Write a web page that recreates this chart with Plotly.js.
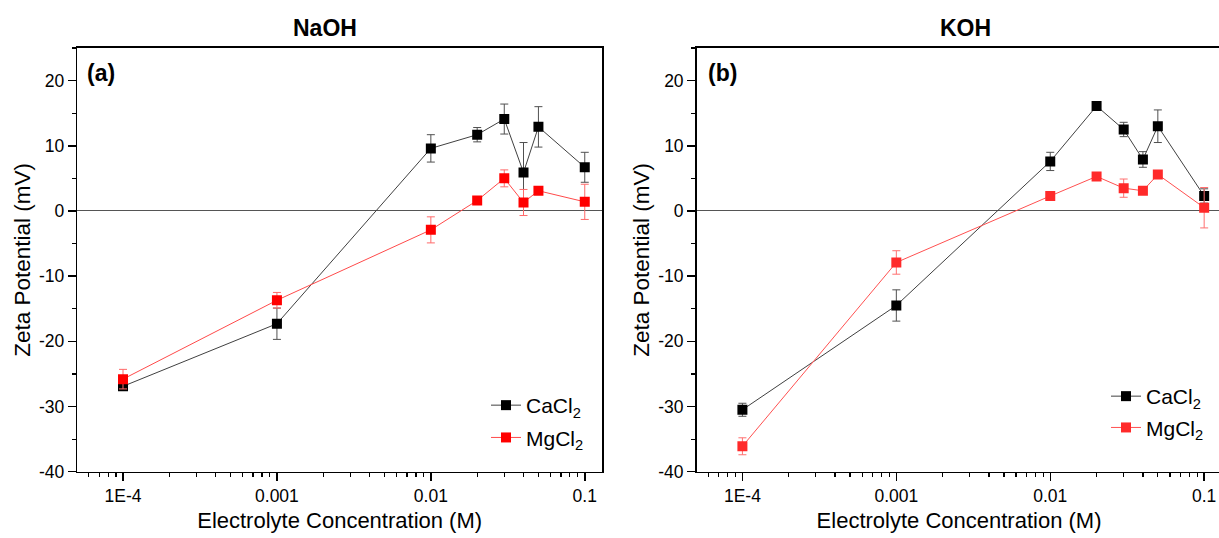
<!DOCTYPE html>
<html>
<head>
<meta charset="utf-8">
<script src="https://cdn.plot.ly/plotly-3.0.1.min.js"></script>
<style>
html, body { margin: 0; padding: 0; overflow: hidden; background: #fff; }
#chart { width: 1222px; height: 538px; }
</style>
</head>
<body>
<div id="chart"></div>
<script>
// Concentrations (M)
const conc = [0.0001, 0.001, 0.01, 0.02, 0.03, 0.04, 0.05, 0.1];
const xTickVals = [0.0001, 0.001, 0.01, 0.1];
const xTickText = ["1E-4", "0.001", "0.01", "0.1"];
const yTickVals = [-40, -30, -20, -10, 0, 10, 20];
const yTickText = ["-40", "-30", "-20", "-10", "0", "10", "20"];

// (a) NaOH
const naohCaCl2 = [-26.9, -17.3, 9.6, 11.7, 14.1, 5.9, 12.9, 6.7];
const naohCaCl2Err = [0.5, 2.4, 2.1, 1.1, 2.3, 4.6, 3.1, 2.3];
const naohMgCl2 = [-25.8, -13.7, -2.9, 1.6, 5.0, 1.3, 3.1, 1.4];
const naohMgCl2Err = [1.5, 1.2, 2.0, 0.3, 1.3, 2.0, 0.5, 2.7];

// (b) KOH
const kohCaCl2 = [-30.5, -14.5, 7.6, 16.1, 12.5, 7.9, 13.0, 2.3];
const kohCaCl2Err = [1.0, 2.4, 1.4, 0.4, 1.1, 1.2, 2.5, 1.1];
const kohMgCl2 = [-36.1, -7.9, 2.3, 5.3, 3.5, 3.1, 5.6, 0.5];
const kohMgCl2Err = [1.3, 1.8, 0.3, 0.3, 1.4, 0.3, 0.3, 3.1];

const FONT = "Liberation Sans, Arial, Helvetica, sans-serif";
const W = 1222, H = 538;

function series(y, err, name, color, lineColor, errColor, xa, ya, leg, grp) {
  return {
    x: conc, y: y, name: name, type: "scatter", mode: "lines+markers",
    xaxis: xa, yaxis: ya, legend: leg, legendgroup: grp,
    line: { color: lineColor, width: 1 },
    marker: { symbol: "square", size: 10, color: color },
    error_y: { type: "data", array: err, visible: true, color: errColor, thickness: 1, width: 4 }
  };
}

const traces = [
  series(naohCaCl2, naohCaCl2Err, "CaCl<sub>2</sub>", "#000000", "#404040", "#505050", "x", "y", "legend", "a1"),
  series(naohMgCl2, naohMgCl2Err, "MgCl<sub>2</sub>", "#ff0000", "#ff4a4a", "#ff6a6a", "x", "y", "legend", "a2"),
  series(kohCaCl2, kohCaCl2Err, "CaCl<sub>2</sub>", "#000000", "#404040", "#505050", "x2", "y2", "legend2", "b1"),
  series(kohMgCl2, kohMgCl2Err, "MgCl<sub>2</sub>", "#ff2a2a", "#ff5050", "#ff7070", "x2", "y2", "legend2", "b2")
];

function xAxis(domain, anchor) {
  return {
    type: "log", domain: domain, anchor: anchor, range: [-4.297, -0.888],
    tickvals: xTickVals, ticktext: xTickText,
    ticks: "outside", ticklen: 8, tickwidth: 1.5, tickcolor: "#000",
    minor: { dtick: "D1", ticks: "outside", ticklen: 4, tickwidth: 1.2, tickcolor: "#000" },
    showline: true, linecolor: "#000", linewidth: 1.6, mirror: true,
    showgrid: false, zeroline: false,
    tickfont: { family: FONT, size: 17.5, color: "#000" },
    title: { text: "Electrolyte Concentration (M)", font: { family: FONT, size: 22, color: "#000" }, standoff: 7 },
    automargin: false
  };
}
function yAxis(domain, anchor) {
  return {
    domain: domain, anchor: anchor, range: [-40, 25],
    tickvals: yTickVals, ticktext: yTickText,
    ticks: "outside", ticklen: 8, tickwidth: 1.5, tickcolor: "#000",
    minor: { dtick: 5, ticks: "outside", ticklen: 4, tickwidth: 1.2, tickcolor: "#000" },
    showline: true, linecolor: "#000", linewidth: 1.6, mirror: true,
    showgrid: false,
    zeroline: true, zerolinecolor: "#555", zerolinewidth: 1,
    tickfont: { family: FONT, size: 17.5, color: "#000" },
    title: { text: "Zeta Potential (mV)", font: { family: FONT, size: 22.5, color: "#000" }, standoff: 2 },
    automargin: false
  };
}

const yDom = [(H - 471.7) / H, (H - 48) / H];

const layout = {
  width: W, height: H,
  margin: { l: 0, r: 0, t: 0, b: 0, pad: 0 },
  paper_bgcolor: "#fff", plot_bgcolor: "#fff",
  font: { family: FONT, color: "#000" },
  xaxis: xAxis([77.3 / W, 602 / W], "y"),
  yaxis: yAxis(yDom, "x"),
  xaxis2: xAxis([696.7 / W, 1221.4 / W], "y2"),
  yaxis2: yAxis(yDom, "x2"),
  showlegend: true,
  legend: {
    x: 486 / W, y: (H - 385) / H, xanchor: "left", yanchor: "top",
    bgcolor: "rgba(0,0,0,0)", borderwidth: 0, tracegroupgap: 2,
    font: { family: FONT, size: 21, color: "#000" }
  },
  legend2: {
    x: 1106 / W, y: (H - 376) / H, xanchor: "left", yanchor: "top",
    bgcolor: "rgba(0,0,0,0)", borderwidth: 0, tracegroupgap: 1,
    font: { family: FONT, size: 21, color: "#000" }
  },
  annotations: [
    { text: "<b>NaOH</b>", xref: "paper", yref: "paper", x: 325 / W, y: (H - 28) / H, xanchor: "center", yanchor: "middle", showarrow: false, font: { family: FONT, size: 23, color: "#000" } },
    { text: "<b>KOH</b>", xref: "paper", yref: "paper", x: 965 / W, y: (H - 28) / H, xanchor: "center", yanchor: "middle", showarrow: false, font: { family: FONT, size: 23, color: "#000" } },
    { text: "<b>(a)</b>", xref: "paper", yref: "paper", x: 85 / W, y: (H - 73) / H, xanchor: "left", yanchor: "middle", showarrow: false, font: { family: FONT, size: 23, color: "#000" } },
    { text: "<b>(b)</b>", xref: "paper", yref: "paper", x: 706 / W, y: (H - 73) / H, xanchor: "left", yanchor: "middle", showarrow: false, font: { family: FONT, size: 23, color: "#000" } }
  ]
};

Plotly.newPlot("chart", traces, layout, { staticPlot: true, displayModeBar: false });
</script>
</body>
</html>
